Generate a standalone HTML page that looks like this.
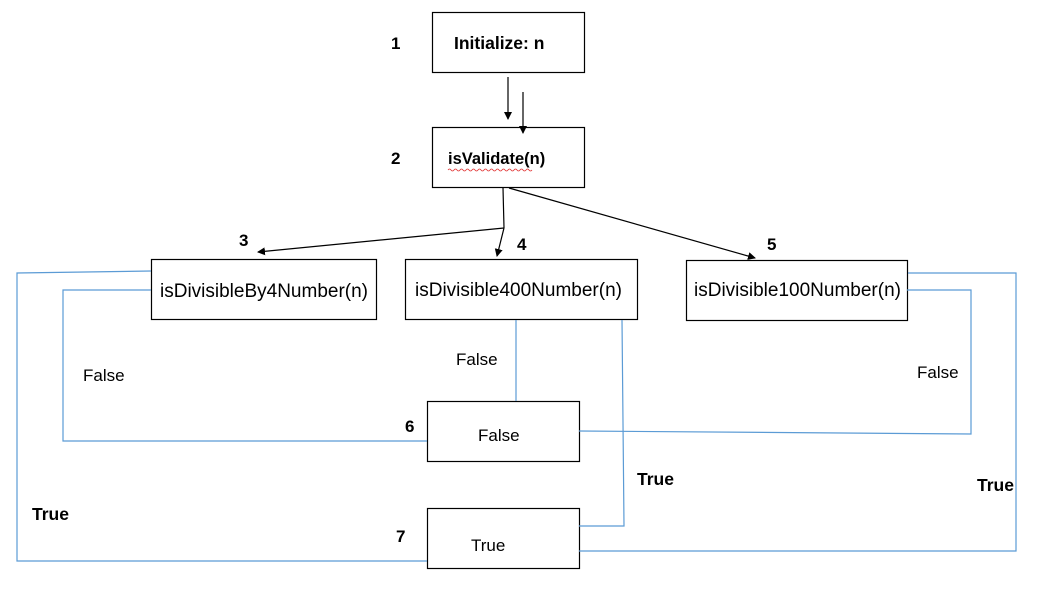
<!DOCTYPE html>
<html><head><style>
body{margin:0;background:#fff;}
svg{display:block;font-family:"Liberation Sans",sans-serif;}
.b{font-weight:bold;}
</style></head><body>
<svg width="1057" height="597" viewBox="0 0 1057 597">
<defs><marker id="a" markerWidth="8" markerHeight="8" refX="7" refY="4" orient="auto" markerUnits="userSpaceOnUse"><path d="M0,0 L8,4 L0,8 z" fill="#000"/></marker></defs>
<g fill="none" stroke="#000" stroke-width="1.2">
<rect x="432.5" y="12.5" width="152" height="60"/>
<rect x="432.5" y="127.5" width="152" height="60"/>
<rect x="151.5" y="259.5" width="225" height="60"/>
<rect x="405.5" y="259.5" width="232" height="60"/>
<rect x="686.5" y="260.5" width="221" height="60"/>
<rect x="427.5" y="401.5" width="152" height="60"/>
<rect x="427.5" y="508.5" width="152" height="60"/>
<line x1="508" y1="77" x2="508" y2="119" marker-end="url(#a)"/>
<line x1="523" y1="92" x2="523" y2="133" marker-end="url(#a)"/>
<line x1="503" y1="188" x2="504" y2="228"/>
<line x1="504" y1="228" x2="497" y2="256" marker-end="url(#a)"/>
<line x1="504" y1="228" x2="258" y2="252" marker-end="url(#a)"/>
<line x1="509" y1="188" x2="755" y2="258" marker-end="url(#a)"/>
</g>
<g fill="none" stroke="#5b9bd5" stroke-width="1.2">
<polyline points="151,271 17,273 17,561 427,561"/>
<polyline points="151,290 63,290 63,441 427,441"/>
<line x1="516" y1="320" x2="516" y2="401"/>
<polyline points="622,320 624,526 579,526"/>
<polyline points="907,290 971,290 971,434 579,431"/>
<polyline points="908,273 1016,273 1016,551 579,551"/>
</g>
<g font-size="17" fill="#000">
<text x="391" y="49" class="b">1</text>
<text x="391" y="164" class="b">2</text>
<text x="239" y="246" class="b">3</text>
<text x="517" y="250" class="b">4</text>
<text x="767" y="250" class="b">5</text>
<text x="405" y="432" class="b">6</text>
<text x="396" y="542" class="b">7</text>
<text x="454" y="49" class="b" font-size="17.5">Initialize: n</text>
<text x="448" y="164" class="b" font-size="16.5">isValidate(n)</text>
<text x="160" y="297" font-size="19">isDivisibleBy4Number(n)</text>
<text x="415" y="296" font-size="19">isDivisible400Number(n)</text>
<text x="694" y="296" font-size="19">isDivisible100Number(n)</text>
<text x="478" y="441">False</text>
<text x="471" y="551">True</text>
<text x="83" y="381">False</text>
<text x="456" y="365">False</text>
<text x="917" y="378">False</text>
<text x="32" y="520" class="b" font-size="17.5">True</text>
<text x="637" y="485" class="b" font-size="17.5">True</text>
<text x="977" y="491" class="b" font-size="17.5">True</text>
</g>
<path d="M448,170 q1.5,-2 3,0 t3,0 t3,0 t3,0 t3,0 t3,0 t3,0 t3,0 t3,0 t3,0 t3,0 t3,0 t3,0 t3,0 t3,0 t3,0 t3,0 t3,0 t3,0 t3,0 t3,0 t3,0 t3,0 t3,0 t3,0 t3,0 t3,0 t3,0" fill="none" stroke="#e03030" stroke-width="0.8"/>
</svg>
</body></html>
